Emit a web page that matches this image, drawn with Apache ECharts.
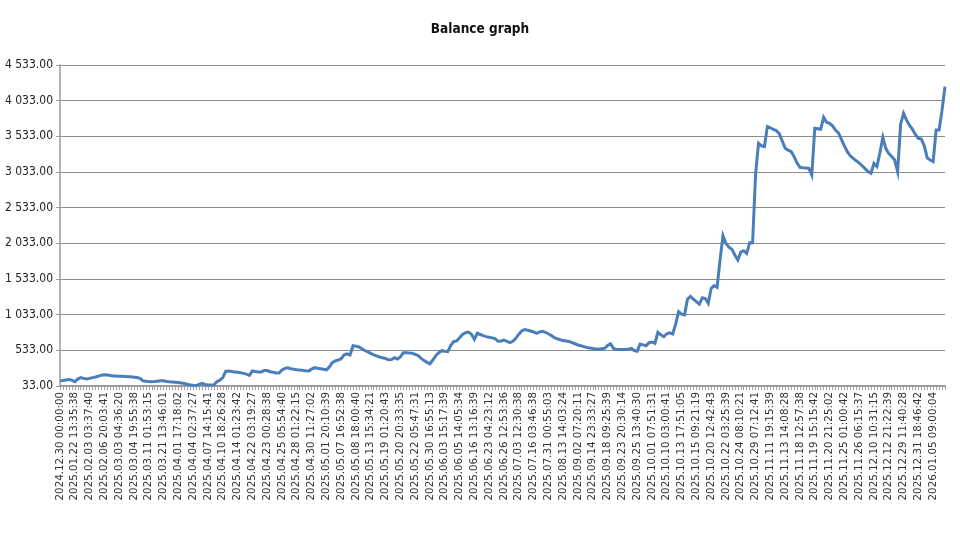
<!DOCTYPE html>
<html>
<head>
<meta charset="utf-8">
<script src="https://cdn.jsdelivr.net/npm/echarts@6/dist/echarts.min.js"></script>
<style>
html,body{margin:0;padding:0;background:#fff;}
#chart{width:960px;height:540px;}
</style>
</head>
<body>
<div id="chart"></div>
<script>
// Tick labels shown on the x axis (one every 5 data points)
const tickLabels = [
"2024.12.30 00:00:00","2025.01.22 13:35:38","2025.02.03 03:37:40","2025.02.06 20:03:41","2025.03.03 04:36:20",
"2025.03.04 19:55:38","2025.03.11 01:53:15","2025.03.21 13:46:01","2025.04.01 17:18:02","2025.04.04 02:37:27",
"2025.04.07 14:15:41","2025.04.10 18:26:28","2025.04.14 01:23:42","2025.04.22 03:19:27","2025.04.23 00:28:38",
"2025.04.25 05:54:40","2025.04.28 01:22:15","2025.04.30 11:27:02","2025.05.01 20:10:39","2025.05.07 16:52:38",
"2025.05.08 18:00:40","2025.05.13 15:34:21","2025.05.19 01:20:43","2025.05.20 20:33:35","2025.05.22 05:47:31",
"2025.05.30 16:55:13","2025.06.03 15:17:39","2025.06.05 14:05:34","2025.06.16 13:16:39","2025.06.23 04:23:12",
"2025.06.26 12:53:36","2025.07.03 12:30:38","2025.07.16 03:46:38","2025.07.31 00:55:03","2025.08.13 14:03:24",
"2025.09.02 07:20:11","2025.09.14 23:33:27","2025.09.18 09:25:39","2025.09.23 20:30:14","2025.09.25 13:40:30",
"2025.10.01 07:51:31","2025.10.10 03:00:41","2025.10.13 17:51:05","2025.10.15 09:21:19","2025.10.20 12:42:43",
"2025.10.22 03:25:39","2025.10.24 08:10:21","2025.10.29 07:12:41","2025.11.11 19:15:39","2025.11.13 14:08:28",
"2025.11.18 12:57:38","2025.11.19 15:15:42","2025.11.20 21:25:02","2025.11.25 01:00:42","2025.11.26 06:15:37",
"2025.12.10 10:31:15","2025.12.12 21:22:39","2025.12.29 11:40:28","2025.12.31 18:46:42","2026.01.05 09:00:04"
];
const pointsPerLabel = 5;

// Balance values
const balance = [
107,110,118,125,115,93,130,150,140,130,
140,150,160,172,185,190,187,180,173,172,
170,168,166,164,162,157,152,140,107,100,
95,93,95,100,105,105,95,92,90,87,
82,75,68,57,47,42,38,55,70,55,
47,47,50,93,115,150,240,242,235,230,
225,218,210,200,183,243,235,228,230,250,
250,233,225,215,215,257,280,288,275,268,
262,257,252,246,245,270,290,282,276,268,
260,300,360,385,397,415,470,485,467,598,
592,580,555,530,510,490,470,455,440,428,
418,400,405,430,411,440,500,500,495,491,
475,460,420,390,365,345,400,460,500,528,
520,514,600,656,665,710,755,780,788,758,
688,772,755,738,725,716,708,698,660,665,
678,660,642,660,702,760,805,825,815,804,
790,770,790,800,786,765,740,710,695,682,
672,665,656,640,625,608,598,585,573,565,
558,550,548,555,561,600,625,560,545,545,
545,545,548,560,530,520,622,610,598,640,
650,631,786,750,724,765,778,762,900,1075,
1040,1030,1250,1290,1249,1215,1180,1270,1260,1193,
1400,1440,1417,1800,2140,2030,1980,1950,1870,1800,
1910,1930,1890,2042,2042,3000,3435,3400,3390,3669,
3650,3630,3615,3570,3470,3365,3340,3320,3250,3160,
3099,3092,3088,3084,2991,3646,3640,3632,3800,3730,
3716,3680,3620,3580,3490,3400,3318,3260,3225,3190,
3160,3120,3080,3038,3015,3154,3110,3300,3520,3365,
3290,3250,3201,3038,3700,3856,3760,3690,3630,3560,
3505,3495,3400,3230,3200,3178,3622,3622,3900,4230
];

const yMin = 33, yMax = 4533, yStep = 500;

const categories = balance.map((v, i) =>
  (i % pointsPerLabel === 0 && tickLabels[i / pointsPerLabel]) ? tickLabels[i / pointsPerLabel] : '');

function fmt(v) {
  const s = v.toFixed(2);
  const parts = s.split('.');
  const int = parts[0].replace(/\B(?=(\d{3})+(?!\d))/g, ' ');
  return int + '.' + parts[1];
}

const chart = echarts.init(document.getElementById('chart'), null, {renderer: 'canvas'});
chart.setOption({
  animation: false,
  backgroundColor: '#ffffff',
  title: {
    text: 'Balance graph',
    left: 'center',
    top: 17,
    textStyle: {fontFamily: 'DejaVu Sans Condensed', fontWeight: 'bold', fontSize: 13.5, color: '#111'}
  },
  grid: {left: 60, right: 15, top: 65, bottom: 154, containLabel: false},
  xAxis: {
    type: 'category',
    data: categories,
    boundaryGap: false,
    axisLine: {lineStyle: {color: '#9a9a9a', width: 2}},
    axisTick: {show: true, interval: 0, length: 4, lineStyle: {color: '#a0a0a0', width: 1}},
    axisLabel: {
      interval: 0, rotate: 90, margin: 6,
      fontFamily: 'DejaVu Sans', fontSize: 10.3, color: '#333'
    },
    splitLine: {show: false}
  },
  yAxis: {
    type: 'value',
    min: yMin, max: yMax, interval: yStep,
    axisLine: {show: true, lineStyle: {color: '#9a9a9a', width: 1.5}},
    axisTick: {show: true, length: 4, lineStyle: {color: '#9a9a9a'}},
    axisLabel: {formatter: fmt, fontFamily: 'DejaVu Sans Condensed', fontSize: 12, color: '#222', margin: 7},
    splitLine: {show: true, lineStyle: {color: '#8c8c8c', width: 1.2}}
  },
  series: [{
    type: 'line',
    data: balance,
    showSymbol: false,
    smooth: false,
    lineStyle: {color: '#4a7ebb', width: 3, join: 'miter'},
    itemStyle: {color: '#4a7ebb'}
  }]
});
</script>
</body>
</html>
